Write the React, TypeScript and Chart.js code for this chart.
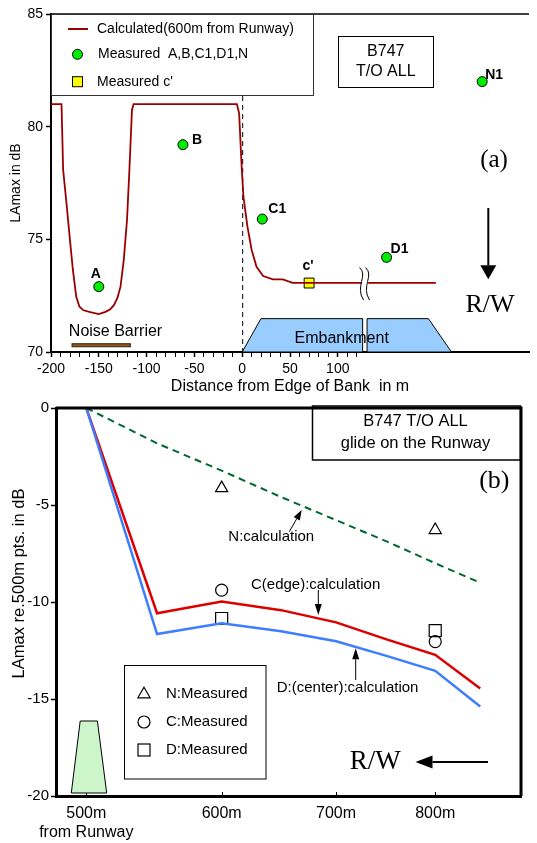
import React, { useEffect, useRef } from "react";
import { Chart, registerables } from "chart.js";

Chart.register(...registerables);

const SANS = '"Liberation Sans", Arial, sans-serif';
const SERIF = '"Liberation Serif", "Times New Roman", serif';

// ---------------- Panel (a) data ----------------
const calcX = [-200, -189, -187.3, -183.8, -180.5, -177.1, -173.6, -170.2, -166, -160, -150, -143, -138, -134.2, -130.5, -127.3, -123.9, -120.5, -118, -115.3, -113.6, -5.6, -3.2, -0.4, 1.3, 5.5, 9.9, 15, 21.9, 32.2, 42.5, 52.8, 202.6];
const calcY = [81, 81, 78.08, 76.6, 75.12, 73.64, 72.45, 72.01, 71.85, 71.78, 71.68, 71.78, 71.9, 72.08, 72.4, 72.9, 74.08, 75.86, 78.08, 80.74, 81, 81, 80.59, 78.08, 76.89, 75.56, 74.53, 73.78, 73.37, 73.22, 73.22, 73.07, 73.07];
const measuredLabels = ["A", "B", "C1", "D1", "N1"];
const measuredX = [-150, -62, 21, 151, 251];
const measuredY = [72.9, 79.2, 75.9, 74.2, 82.0];
const cPrimeLabels = ["c'"];
const cPrimeX = [70];
const cPrimeY = [73.06];
const topXTickValues = [-200, -190, -180, -170, -160, -150, -140, -130, -120, -110, -100, -90, -80, -70, -60, -50, -40, -30, -20, -10, 0, 10, 20, 30, 40, 50, 60, 70, 80, 90, 100, 110, 120];
const topXLabelled = [-200, -150, -100, -50, 0, 50, 100];
const embankLeft = [[0, 70], [19.6, 71.48], [126, 71.48], [126, 70]];
const embankRight = [[130.6, 70], [130.6, 71.48], [194.8, 71.48], [218.9, 70]];
const noiseBarrier = [-178, -117];

// ---------------- Panel (b) data ----------------
const distances = [500, 550, 600, 650, 700, 750, 800, 850];
const cEdgeCalc = [0, -10.58, -9.98, -10.42, -11.05, -11.94, -12.72, -14.46];
const dCenterCalc = [0, -11.65, -11.09, -11.51, -12.02, -12.79, -13.55, -15.39];
const nCalc = [0, -1.82, -3.23, -4.59, -5.78, -6.89, -8.0, -9.01];
const measuredDist = [600, 800];
const nMeasured = [-4.13, -6.29];
const cMeasured = [-9.39, -12.04];
const dMeasured = [-10.85, -11.48];
const bottomTickValues = [500, 600, 700, 800];
const bottomTickLabels: any[] = [["500m", "from Runway"], "600m", "700m", "800m"];

// ---------------- helpers ----------------
function txt(ctx: any, s: string, x: number, y: number, font: string, align: string = "left") {
  ctx.font = font;
  ctx.textAlign = align;
  ctx.textBaseline = "middle";
  ctx.fillStyle = "#000";
  ctx.fillText(s, x, y);
}
function arrow(ctx: any, x1: number, y1: number, x2: number, y2: number, len: number, half: number, lw: number) {
  const a = Math.atan2(y2 - y1, x2 - x1);
  const bx = x2 - Math.cos(a) * len;
  const by = y2 - Math.sin(a) * len;
  ctx.strokeStyle = "#000";
  ctx.lineWidth = lw;
  ctx.beginPath();
  ctx.moveTo(x1, y1);
  ctx.lineTo(bx, by);
  ctx.stroke();
  ctx.fillStyle = "#000";
  ctx.beginPath();
  ctx.moveTo(x2, y2);
  ctx.lineTo(bx + Math.sin(a) * half, by - Math.cos(a) * half);
  ctx.lineTo(bx - Math.sin(a) * half, by + Math.cos(a) * half);
  ctx.closePath();
  ctx.fill();
}

const labelOffsets: Record<string, [number, number, string]> = {
  A: [-3, -13, "center"],
  B: [9, -5, "left"],
  C1: [6, -10, "left"],
  D1: [4, -8, "left"],
  N1: [3, -6, "left"],
  "c'": [-1, -17, "center"],
};

const topDecor = {
  id: "topDecor",
  beforeDatasetsDraw(chart: any) {
    const { ctx, scales, chartArea } = chart;
    const x = scales.x, y = scales.y;
    ctx.save();
    const poly = (pts: number[][]) => {
      ctx.beginPath();
      pts.forEach(([px, py], i) => {
        const X = x.getPixelForValue(px), Y = y.getPixelForValue(py);
        if (i === 0) ctx.moveTo(X, Y); else ctx.lineTo(X, Y);
      });
      ctx.closePath();
      ctx.fillStyle = "#99ccff";
      ctx.fill();
      ctx.strokeStyle = "#000";
      ctx.lineWidth = 1;
      ctx.stroke();
    };
    poly(embankLeft);
    poly(embankRight);
    txt(ctx, "Embankment", 341.7, 338.3, `16px ${SANS}`, "center");
    // noise barrier
    const nb0 = x.getPixelForValue(noiseBarrier[0]);
    const nb1 = x.getPixelForValue(noiseBarrier[1]);
    const nby = y.getPixelForValue(70.3);
    ctx.fillStyle = "#8b5a2b";
    ctx.strokeStyle = "#3a2000";
    ctx.lineWidth = 1;
    ctx.fillRect(nb0, nby - 1.5, nb1 - nb0, 3);
    ctx.strokeRect(nb0, nby - 1.5, nb1 - nb0, 3);
    txt(ctx, "Noise Barrier", 115.5, 331.7, `16px ${SANS}`, "center");
    // dashed line at bank edge
    const x0 = x.getPixelForValue(0);
    ctx.strokeStyle = "#000";
    ctx.lineWidth = 1;
    ctx.setLineDash([5, 4]);
    ctx.beginPath();
    ctx.moveTo(x0 + 0.5, 96);
    ctx.lineTo(x0 + 0.5, chartArea.bottom);
    ctx.stroke();
    ctx.setLineDash([]);
    ctx.restore();
  },
  afterDatasetsDraw(chart: any) {
    const { ctx, scales, chartArea } = chart;
    const x = scales.x, y = scales.y;
    ctx.save();
    // break symbol
    const bx = x.getPixelForValue(128);
    const by0 = y.getPixelForValue(73.75), by1 = y.getPixelForValue(72.3);
    ctx.fillStyle = "#fff";
    ctx.fillRect(bx - 2.5, by0 + 4, 6, by1 - by0 - 8);
    ctx.strokeStyle = "#000";
    ctx.lineWidth = 1;
    [-3, 3].forEach((d) => {
      const cx = bx + d;
      ctx.beginPath();
      ctx.moveTo(cx - 2, by0);
      ctx.bezierCurveTo(cx + 7, by0 + 8, cx - 7, by1 - 14, cx + 2, by1);
      ctx.stroke();
    });
    // point labels
    const drawLabels = (labels: string[], xs: number[], ys: number[]) => {
      labels.forEach((l, i) => {
        const o = labelOffsets[l];
        txt(ctx, l, x.getPixelForValue(xs[i]) + o[0], y.getPixelForValue(ys[i]) + o[1], `bold 14px ${SANS}`, o[2]);
      });
    };
    drawLabels(measuredLabels, measuredX, measuredY);
    drawLabels(cPrimeLabels, cPrimeX, cPrimeY);
    // top frame line
    ctx.strokeStyle = "#000";
    ctx.lineWidth = 1.5;
    ctx.beginPath();
    ctx.moveTo(chartArea.left, chartArea.top);
    ctx.lineTo(chartArea.right, chartArea.top);
    ctx.stroke();
    // legend box
    ctx.fillStyle = "#fff";
    ctx.fillRect(51, 14, 262, 81);
    ctx.strokeStyle = "#333";
    ctx.lineWidth = 1;
    ctx.strokeRect(51.5, 14.5, 262, 81);
    ctx.strokeStyle = "#990000";
    ctx.lineWidth = 2;
    ctx.beginPath();
    ctx.moveTo(68, 29);
    ctx.lineTo(88, 29);
    ctx.stroke();
    txt(ctx, "Calculated(600m from Runway)", 97, 29, `14px ${SANS}`);
    ctx.fillStyle = "#00ee00";
    ctx.strokeStyle = "#000";
    ctx.lineWidth = 1;
    ctx.beginPath();
    ctx.arc(77.5, 54.3, 5, 0, Math.PI * 2);
    ctx.fill();
    ctx.stroke();
    txt(ctx, "Measured  A,B,C1,D1,N", 98, 54.3, `14px ${SANS}`);
    ctx.fillStyle = "#ffff00";
    ctx.fillRect(72.5, 76.7, 10, 10);
    ctx.strokeRect(72.5, 76.7, 10, 10);
    txt(ctx, "Measured c'", 97, 81.7, `14px ${SANS}`);
    // B747 box
    ctx.strokeStyle = "#000";
    ctx.lineWidth = 1;
    ctx.strokeRect(338.5, 36.5, 95, 51);
    txt(ctx, "B747", 385.8, 51.7, `16px ${SANS}`, "center");
    txt(ctx, "T/O ALL", 385.8, 71.7, `16px ${SANS}`, "center");
    // (a)
    txt(ctx, "(a)", 494, 160, `25px ${SERIF}`, "center");
    // R/W arrow
    arrow(ctx, 488.3, 208, 488.3, 279.3, 14, 8, 2);
    txt(ctx, "R/W", 490, 305, `26px ${SERIF}`, "center");
    ctx.restore();
  },
};

const OFF = 397;
const bottomDecor = {
  id: "bottomDecor",
  afterDatasetsDraw(chart: any) {
    const { ctx, scales, chartArea } = chart;
    const x = scales.x;
    ctx.save();
    // frame top/right
    ctx.strokeStyle = "#000";
    ctx.lineWidth = 3;
    ctx.beginPath();
    ctx.moveTo(chartArea.left, chartArea.top);
    ctx.lineTo(chartArea.right, chartArea.top);
    ctx.lineTo(chartArea.right, chartArea.bottom);
    ctx.stroke();
    // inner ticks on x axis
    ctx.lineWidth = 1;
    bottomTickValues.forEach((v) => {
      const px = Math.round(x.getPixelForValue(v)) + 0.5;
      ctx.beginPath();
      ctx.moveTo(px, chartArea.bottom);
      ctx.lineTo(px, chartArea.bottom - 4);
      ctx.stroke();
    });
    // y title
    ctx.save();
    ctx.translate(19, 583.5 - OFF);
    ctx.rotate(-Math.PI / 2);
    txt(ctx, "LAmax re.500m pts. in dB", 0, 0, `16.5px ${SANS}`, "center");
    ctx.restore();
    // title box
    ctx.lineWidth = 1.5;
    ctx.strokeRect(312.5, 406 - OFF, 208, 54);
    txt(ctx, "B747 T/O ALL", 415.5, 421.7 - OFF, `16.5px ${SANS}`, "center");
    txt(ctx, "glide on the Runway", 415.5, 443.3 - OFF, `16.5px ${SANS}`, "center");
    txt(ctx, "(b)", 494.3, 480.7 - OFF, `26px ${SERIF}`, "center");
    // annotations
    txt(ctx, "N:calculation", 228.3, 537.3 - OFF, `15px ${SANS}`);
    arrow(ctx, 289.3, 531.7 - OFF, 301.7, 510 - OFF, 10, 3.5, 1);
    txt(ctx, "C(edge):calculation", 251, 585 - OFF, `15px ${SANS}`);
    arrow(ctx, 318.3, 590 - OFF, 318.3, 615 - OFF, 11, 3.5, 1);
    txt(ctx, "D:(center):calculation", 276.7, 688.3 - OFF, `15px ${SANS}`);
    arrow(ctx, 355.7, 680 - OFF, 355.7, 648.3 - OFF, 11, 3.5, 1);
    // legend box
    ctx.fillStyle = "#fff";
    ctx.fillRect(124, 665.7 - OFF, 142, 113.3);
    ctx.strokeStyle = "#000";
    ctx.lineWidth = 1;
    ctx.strokeRect(124.5, 665.5 - OFF, 141.5, 113.5);
    ctx.lineWidth = 1.2;
    const ly = [694.3, 722, 750].map((v) => v - OFF);
    ctx.beginPath();
    ctx.moveTo(144, ly[0] - 7);
    ctx.lineTo(144 + 6.1, ly[0] + 3.5);
    ctx.lineTo(144 - 6.1, ly[0] + 3.5);
    ctx.closePath();
    ctx.stroke();
    txt(ctx, "N:Measured", 166, ly[0], `15px ${SANS}`);
    ctx.beginPath();
    ctx.arc(144, ly[1], 6, 0, Math.PI * 2);
    ctx.stroke();
    txt(ctx, "C:Measured", 166, ly[1], `15px ${SANS}`);
    ctx.strokeRect(138, ly[2] - 6, 12, 12);
    txt(ctx, "D:Measured", 166, ly[2], `15px ${SANS}`);
    // green trapezoid
    ctx.beginPath();
    ctx.moveTo(71.3, 793 - OFF);
    ctx.lineTo(80.2, 721 - OFF);
    ctx.lineTo(97.4, 721 - OFF);
    ctx.lineTo(106.7, 793 - OFF);
    ctx.closePath();
    ctx.fillStyle = "#ccf5cc";
    ctx.fill();
    ctx.lineWidth = 1;
    ctx.strokeStyle = "#000";
    ctx.stroke();
    // R/W arrow
    txt(ctx, "R/W", 375.2, 762 - OFF, `27px ${SERIF}`, "center");
    arrow(ctx, 488, 762 - OFF, 415.5, 762 - OFF, 17, 6.5, 2);
    ctx.restore();
  },
};

export default function App() {
  const topRef = useRef<HTMLCanvasElement>(null);
  const botRef = useRef<HTMLCanvasElement>(null);

  useEffect(() => {
    Chart.defaults.color = "#000";
    const top = new Chart(topRef.current as HTMLCanvasElement, {
      type: "scatter",
      data: {
        datasets: [
          {
            label: "Calculated(600m from Runway)",
            data: calcX.map((v, i) => ({ x: v, y: calcY[i] })),
            showLine: true,
            borderColor: "#990000",
            borderWidth: 1.8,
            pointRadius: 0,
            tension: 0,
          },
          {
            label: "Measured  A,B,C1,D1,N",
            data: measuredX.map((v, i) => ({ x: v, y: measuredY[i] })),
            showLine: false,
            pointStyle: "circle",
            pointRadius: 5,
            backgroundColor: "#00ee00",
            borderColor: "#000",
            borderWidth: 1,
          },
          {
            label: "Measured c'",
            data: cPrimeX.map((v, i) => ({ x: v, y: cPrimeY[i] })),
            showLine: false,
            pointStyle: "rect",
            pointRadius: 7,
            backgroundColor: "#ffff00",
            borderColor: "#000",
            borderWidth: 1,
          },
        ],
      },
      options: {
        responsive: false,
        animation: false,
        layout: { padding: { top: 14, left: 0, right: 0, bottom: 0 } },
        plugins: { legend: { display: false }, tooltip: { enabled: false } },
        scales: {
          x: {
            type: "linear",
            min: -200,
            max: 300,
            afterBuildTicks: (s: any) => {
              s.ticks = topXTickValues.map((v) => ({ value: v }));
            },
            afterFit: (s: any) => {
              s.height = 45;
            },
            ticks: {
              autoSkip: false,
              maxRotation: 0,
              padding: 4,
              font: { family: SANS, size: 14 },
              color: "#000",
              callback: (v: any) => (topXLabelled.includes(Number(v)) ? String(v) : ""),
            },
            grid: {
              drawOnChartArea: false,
              drawTicks: true,
              tickLength: 5,
              tickColor: "#000",
              tickWidth: (c: any) => (c.tick && topXLabelled.includes(c.tick.value) ? 1.5 : 1),
            },
            border: { display: true, color: "#000", width: 2 },
            title: {
              display: true,
              text: "Distance from Edge of Bank  in m",
              font: { family: SANS, size: 16 },
              color: "#000",
              padding: { top: 0, bottom: 1 },
            },
          },
          y: {
            min: 70,
            max: 85,
            afterFit: (s: any) => {
              s.width = 51;
            },
            ticks: { stepSize: 5, padding: 3, font: { family: SANS, size: 14 }, color: "#000" },
            grid: { drawOnChartArea: false, tickLength: 5, tickColor: "#000", tickWidth: 1.5 },
            border: { display: true, color: "#000", width: 2 },
            title: {
              display: true,
              text: "LAmax in dB",
              font: { family: SANS, size: 14 },
              color: "#000",
              padding: { top: 8, bottom: 0 },
            },
          },
        },
      } as any,
      plugins: [topDecor],
    });

    const pts = (ys: number[], xs: number[]) => xs.map((v, i) => ({ x: v, y: ys[i] }));
    const bottom = new Chart(botRef.current as HTMLCanvasElement, {
      type: "scatter",
      data: {
        datasets: [
          {
            label: "N:calculation",
            data: pts(nCalc, distances),
            showLine: true,
            borderColor: "#006633",
            borderWidth: 2,
            borderDash: [7, 5],
            pointRadius: 0,
          },
          {
            label: "D:(center):calculation",
            data: pts(dCenterCalc, distances),
            showLine: true,
            borderColor: "#3d7dff",
            borderWidth: 2.5,
            pointRadius: 0,
          },
          {
            label: "C(edge):calculation",
            data: pts(cEdgeCalc, distances),
            showLine: true,
            borderColor: "#dd0000",
            borderWidth: 2.5,
            pointRadius: 0,
          },
          {
            label: "N:Measured",
            data: pts(nMeasured, measuredDist),
            showLine: false,
            pointStyle: "triangle",
            pointRadius: 7,
            backgroundColor: "rgba(0,0,0,0)",
            borderColor: "#000",
            borderWidth: 1.2,
          },
          {
            label: "C:Measured",
            data: pts(cMeasured, measuredDist),
            showLine: false,
            pointStyle: "circle",
            pointRadius: 6,
            backgroundColor: "rgba(0,0,0,0)",
            borderColor: "#000",
            borderWidth: 1.2,
          },
          {
            label: "D:Measured",
            data: pts(dMeasured, measuredDist),
            showLine: false,
            pointStyle: "rect",
            pointRadius: 8.5,
            backgroundColor: "rgba(0,0,0,0)",
            borderColor: "#000",
            borderWidth: 1.2,
          },
        ],
      },
      options: {
        responsive: false,
        animation: false,
        layout: { padding: { top: 9, left: 0, right: 16, bottom: 0 } },
        plugins: { legend: { display: false }, tooltip: { enabled: false } },
        scales: {
          x: {
            type: "logarithmic",
            min: 480,
            max: 898,
            afterBuildTicks: (s: any) => {
              s.ticks = bottomTickValues.map((v) => ({ value: v }));
            },
            afterFit: (s: any) => {
              s.height = 47;
            },
            ticks: {
              autoSkip: false,
              maxRotation: 0,
              padding: 8,
              font: { family: SANS, size: 16 },
              color: "#000",
              callback: (_v: any, i: number) => bottomTickLabels[i],
            },
            grid: { drawOnChartArea: false, drawTicks: false },
            border: { display: true, color: "#000", width: 3 },
          },
          y: {
            min: -20,
            max: 0,
            afterFit: (s: any) => {
              s.width = 56;
            },
            ticks: { stepSize: 5, padding: 2, font: { family: SANS, size: 15 }, color: "#000" },
            grid: { drawOnChartArea: false, tickLength: 5, tickColor: "#000", tickWidth: 1.5 },
            border: { display: true, color: "#000", width: 3 },
          },
        },
      } as any,
      plugins: [bottomDecor],
    });

    return () => {
      top.destroy();
      bottom.destroy();
    };
  }, []);

  return (
    <div style={{ position: "absolute", left: 0, top: 0, width: 537, height: 843, background: "#fff" }}>
      <canvas ref={topRef} width={537} height={397} style={{ position: "absolute", left: 0, top: 0 }} />
      <canvas ref={botRef} width={537} height={446} style={{ position: "absolute", left: 0, top: 397 }} />
    </div>
  );
}
